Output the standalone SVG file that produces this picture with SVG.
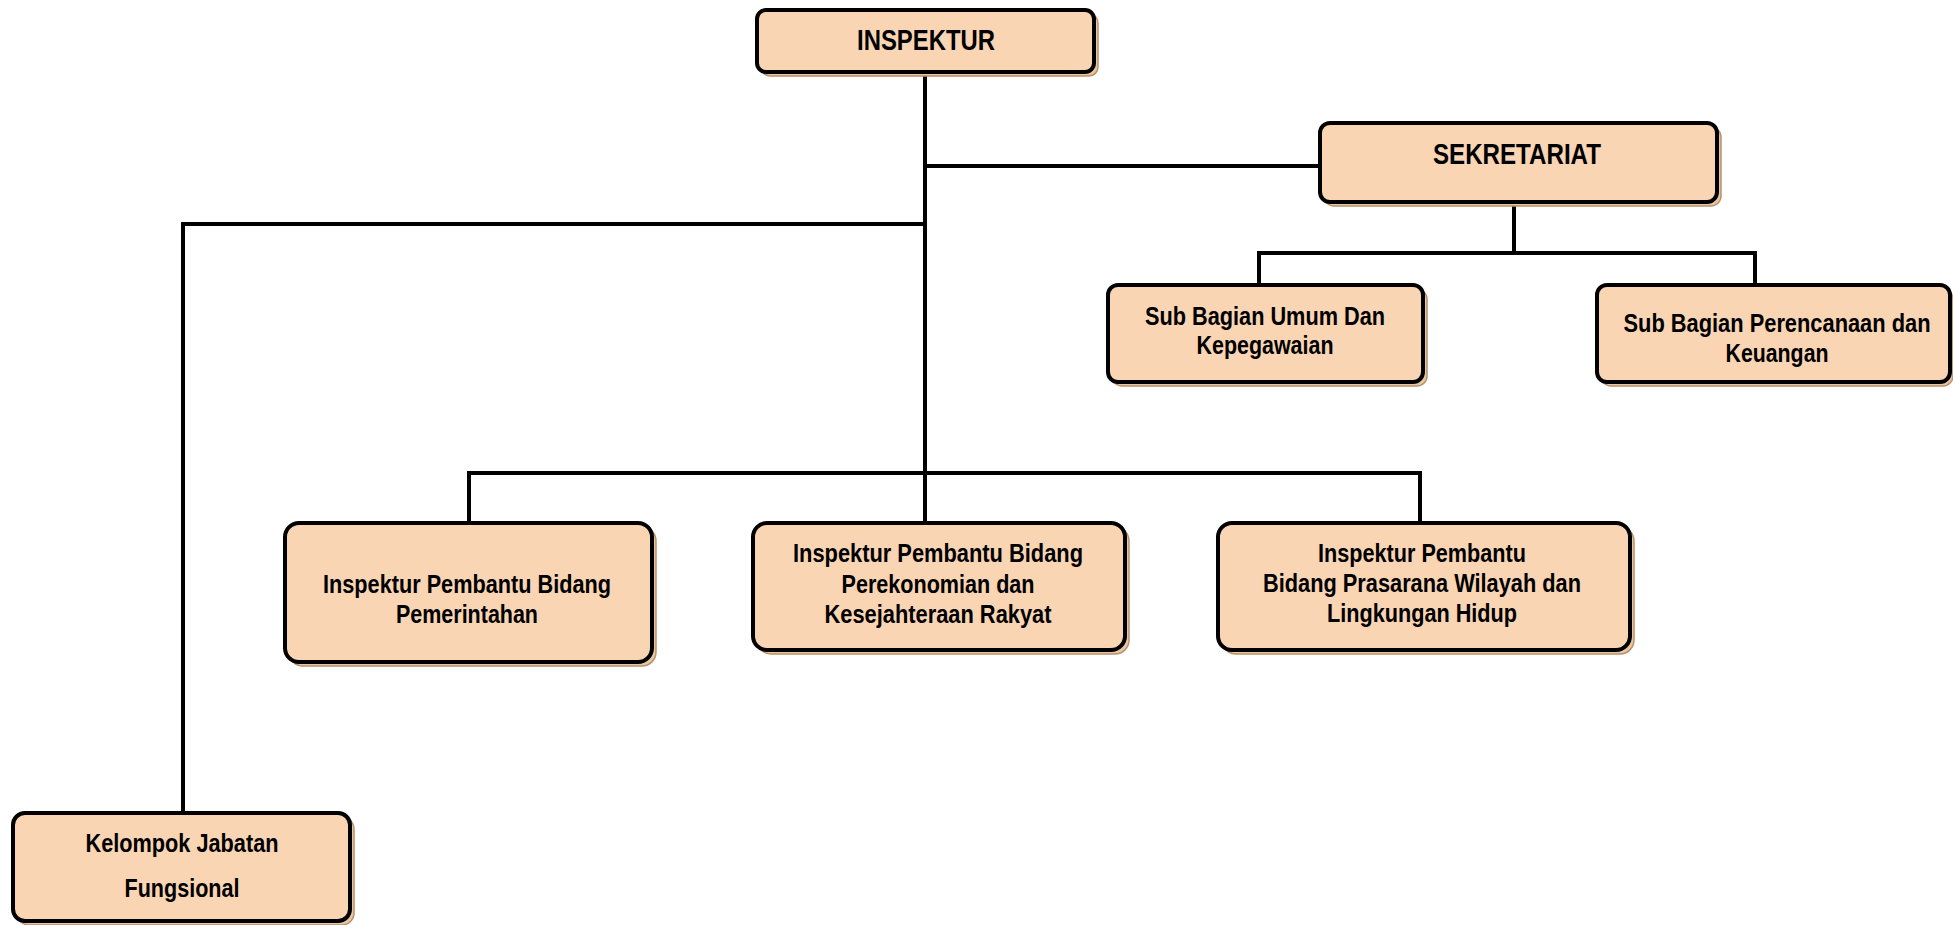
<svg xmlns="http://www.w3.org/2000/svg" width="1953" height="925" viewBox="0 0 1953 925">
<style>
.box{fill:#fad5b4;stroke:#000;stroke-width:4}
.sh{fill:#e9c6a4;stroke:#b8916d;stroke-width:1.5}
.t{font-family:"Liberation Sans Narrow","Arial Narrow","Liberation Sans",sans-serif;font-weight:bold;fill:#000;text-anchor:middle}
.big{font-size:29px}
.sm{font-size:26.5px}
.c{fill:none;stroke:#000;stroke-width:4}
</style>
<rect width="1953" height="925" fill="#fff"/>
<g id="connectors">
<path class="c" d="M925,72 V473"/>
<path class="c" d="M925,166 H1320"/>
<path class="c" d="M925,224 H183 V813"/>
<path class="c" d="M1514,202 V253 M1259,285 V253 H1755 V285"/>
<path class="c" d="M469,523 V473 H1420 V523 M925,473 V523"/>
</g>
<g id="inspektur">
<rect class="sh" x="761" y="14" width="337" height="62" rx="9"/>
<rect class="box" x="757" y="10" width="337" height="62" rx="9"/>
<text class="t big" x="926" y="50" textLength="138" lengthAdjust="spacingAndGlyphs">INSPEKTUR</text>
</g>
<g id="sekretariat">
<rect class="sh" x="1324" y="127" width="397" height="79" rx="10"/>
<rect class="box" x="1320" y="123" width="397" height="79" rx="10"/>
<text class="t big" x="1517" y="164" textLength="168" lengthAdjust="spacingAndGlyphs">SEKRETARIAT</text>
</g>
<g id="subbag-umum">
<rect class="sh" x="1112" y="289" width="315" height="97" rx="10"/>
<rect class="box" x="1108" y="285" width="315" height="97" rx="10"/>
<text class="t sm" x="1265" y="325" textLength="240" lengthAdjust="spacingAndGlyphs">Sub Bagian Umum Dan</text>
<text class="t sm" x="1265" y="354" textLength="137" lengthAdjust="spacingAndGlyphs">Kepegawaian</text>
</g>
<g id="subbag-perencanaan">
<rect class="sh" x="1601" y="289" width="352" height="97" rx="10"/>
<rect class="box" x="1597" y="285" width="353" height="97" rx="10"/>
<text class="t sm" x="1777" y="332" textLength="307" lengthAdjust="spacingAndGlyphs">Sub Bagian Perencanaan dan</text>
<text class="t sm" x="1777" y="362" textLength="103" lengthAdjust="spacingAndGlyphs">Keuangan</text>
</g>
<g id="irban-pemerintahan">
<rect class="sh" x="289" y="527" width="367" height="139" rx="14"/>
<rect class="box" x="285" y="523" width="367" height="139" rx="14"/>
<text class="t sm" x="467" y="593" textLength="288" lengthAdjust="spacingAndGlyphs">Inspektur Pembantu Bidang</text>
<text class="t sm" x="467" y="623" textLength="142" lengthAdjust="spacingAndGlyphs">Pemerintahan</text>
</g>
<g id="irban-perekonomian">
<rect class="sh" x="757" y="527" width="372" height="127" rx="14"/>
<rect class="box" x="753" y="523" width="372" height="127" rx="14"/>
<text class="t sm" x="938" y="562" textLength="290" lengthAdjust="spacingAndGlyphs">Inspektur Pembantu Bidang</text>
<text class="t sm" x="938" y="593" textLength="193" lengthAdjust="spacingAndGlyphs">Perekonomian dan</text>
<text class="t sm" x="938" y="623" textLength="227" lengthAdjust="spacingAndGlyphs">Kesejahteraan Rakyat</text>
</g>
<g id="irban-prasarana">
<rect class="sh" x="1222" y="527" width="412" height="127" rx="14"/>
<rect class="box" x="1218" y="523" width="412" height="127" rx="14"/>
<text class="t sm" x="1422" y="562" textLength="208" lengthAdjust="spacingAndGlyphs">Inspektur Pembantu</text>
<text class="t sm" x="1422" y="592" textLength="318" lengthAdjust="spacingAndGlyphs">Bidang Prasarana Wilayah dan</text>
<text class="t sm" x="1422" y="622" textLength="190" lengthAdjust="spacingAndGlyphs">Lingkungan Hidup</text>
</g>
<g id="kelompok-fungsional">
<rect class="sh" x="17" y="817" width="337" height="108" rx="12"/>
<rect class="box" x="13" y="813" width="337" height="108" rx="12"/>
<text class="t sm" x="182" y="852" textLength="193" lengthAdjust="spacingAndGlyphs">Kelompok Jabatan</text>
<text class="t sm" x="182" y="897" textLength="115" lengthAdjust="spacingAndGlyphs">Fungsional</text>
</g>
</svg>
